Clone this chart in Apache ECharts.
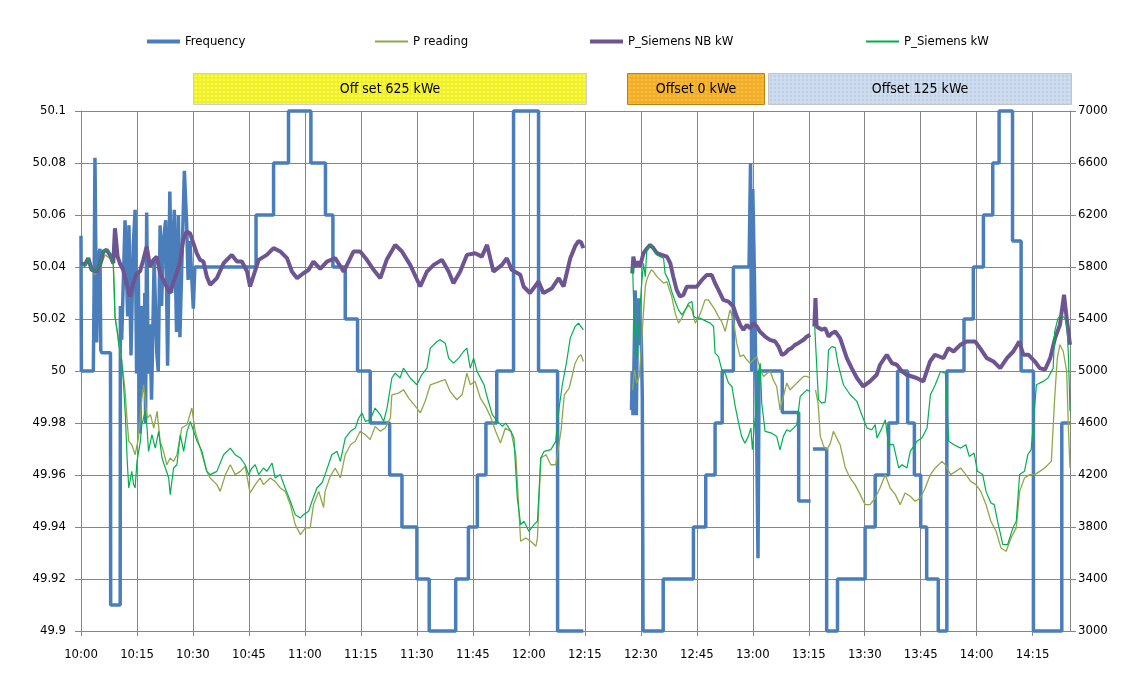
<!DOCTYPE html>
<html>
<head>
<meta charset="utf-8">
<script src="https://cdn.jsdelivr.net/npm/echarts@6/dist/echarts.min.js"></script>
<style>
  html, body { margin: 0; padding: 0; background: #fff; }
  #main { width: 1130px; height: 682px; }
</style>
</head>
<body>
<div id="main"></div>
<script>
// minutes after 10:00 -> value
const frequency = [
  [0, 50.052], [0.1, 50.0], [3.3, 50.0], [3.5, 50.03], [3.74, 50.082], [4.19, 50.011], [4.63, 50.044],
  [5.08, 50.047], [5.3, 50.008], [5.53, 50.007], [7.9, 50.007], [7.95, 49.91], [10.5, 49.91],
  [10.55, 50.025], [10.9, 50.012], [11.8, 50.058], [12.5, 50.021], [12.85, 50.056], [13.4, 50.006],
  [14.0, 50.048], [14.5, 50.062], [14.9, 49.999], [15.35, 50.038], [15.8, 49.976], [16.2, 50.025],
  [16.7, 49.992], [17.1, 50.03], [17.3, 49.98], [17.6, 50.061], [18.0, 49.999], [18.5, 50.018], [18.9, 49.989],
  [19.6, 50.043], [20.3, 50.007], [20.7, 50.0], [21.2, 50.056], [21.6, 50.025], [22.05, 50.05],
  [22.7, 50.058], [23.2, 50.002], [23.8, 50.069], [24.3, 50.03], [25.0, 50.062], [25.6, 50.015],
  [26.1, 50.06], [26.5, 50.013], [27.0, 50.04], [27.7, 50.077], [28.3, 50.057], [28.7, 50.035],
  [29.2, 50.05], [29.6, 50.038], [30.1, 50.024], [30.5, 50.04],
  [46.9, 50.04], [46.9, 50.06], [51.6, 50.06], [51.6, 50.08], [55.6, 50.08], [55.6, 50.1], [61.6, 50.1],
  [61.6, 50.08], [65.5, 50.08], [65.5, 50.06], [67.5, 50.06], [67.5, 50.04], [70.8, 50.04], [70.8, 50.02],
  [74.1, 50.02], [74.1, 50.0], [77.5, 50.0], [77.5, 49.98], [82.7, 49.98], [82.7, 49.96], [86.0, 49.96],
  [86.0, 49.94], [90.0, 49.94], [90.0, 49.92], [93.3, 49.92], [93.3, 49.9], [100.4, 49.9], [100.4, 49.92],
  [103.8, 49.92], [103.8, 49.94], [106.2, 49.94], [106.2, 49.96], [108.5, 49.96], [108.5, 49.98],
  [111.4, 49.98], [111.4, 50.0], [115.9, 50.0], [115.9, 50.1], [122.6, 50.1], [122.6, 50.0], [127.7, 50.0],
  [127.7, 49.9], [134.6, 49.9],
  [135, null],
  [147.5, 49.985], [147.7, 50.0], [147.9, 49.983], [148.2, 50.005], [148.5, 50.031], [148.8, 49.983],
  [149.1, 50.02], [149.4, 50.028], [149.8, 50.01], [150.1, 50.015], [150.4, 49.99], [150.6, 49.9],
  [156.0, 49.9], [156.0, 49.92], [164.1, 49.92], [164.1, 49.94], [167.4, 49.94], [167.4, 49.96],
  [169.9, 49.96], [169.9, 49.98], [171.8, 49.98], [171.8, 50.0], [174.8, 50.0], [174.8, 50.04],
  [179.0, 50.04], [179.4, 50.08], [179.7, 50.0], [180.0, 50.07], [180.4, 50.04], [181.0, 49.98],
  [181.4, 49.928], [181.7, 50.0], [187.9, 50.0], [187.9, 49.984], [192.3, 49.984], [192.3, 49.95],
  [195.5, 49.95], [195.8, null], [196.1, 49.97], [199.8, 49.97], [199.8, 49.9], [202.7, 49.9],
  [202.7, 49.92], [210.1, 49.92], [210.1, 49.94], [212.8, 49.94], [212.8, 49.96], [216.4, 49.96],
  [216.4, 49.98], [218.8, 49.98], [218.8, 50.0], [221.5, 50.0], [221.5, 49.98], [223.3, 49.98],
  [223.3, 49.96], [225.0, 49.96], [225.0, 49.94], [226.6, 49.94], [226.6, 49.92], [229.7, 49.92],
  [229.7, 49.9], [232.0, 49.9], [232.0, 50.0], [236.6, 50.0], [236.6, 50.02], [239.1, 50.02],
  [239.1, 50.04], [241.8, 50.04], [241.8, 50.06], [244.3, 50.06], [244.3, 50.08], [246.0, 50.08],
  [246.0, 50.1], [249.6, 50.1], [249.6, 50.05], [251.9, 50.05], [251.9, 50.0], [255.2, 50.0],
  [255.2, 49.9], [262.8, 49.9], [262.8, 49.98], [265, 49.98]
];

const pReading = [
  [0, 5803], [1.96, 5855], [3.74, 5739], [5.08, 5791], [6.42, 5893], [7.76, 5868], [8.65, 5816], [9.1, 5419],
  [10.0, 5240], [10.9, 5086], [11.8, 4850], [12.4, 4600], [12.8, 4459], [13.6, 4433], [14.5, 4356],
  [15.4, 4484], [16.3, 4792], [16.8, 4894], [17.7, 4638], [18.6, 4664], [19.5, 4561], [20.4, 4689],
  [21.2, 4459], [22.1, 4382], [23.0, 4279], [23.9, 4331], [24.8, 4305], [25.7, 4356], [27.0, 4561],
  [28.4, 4587], [29.7, 4715], [30.6, 4536], [31.96, 4407], [33.7, 4228], [34.6, 4177], [36.4, 4126],
  [37.3, 4074], [38.7, 4203], [40.0, 4279], [41.3, 4203], [42.7, 4228], [44.0, 4267], [45.3, 4062],
  [46.7, 4126], [48.0, 4177], [48.9, 4126], [50.7, 4177], [52.0, 4151], [53.4, 4100], [54.7, 4074],
  [56.1, 3972], [57.4, 3818], [58.8, 3741], [60.1, 3793], [61.4, 3793], [62.3, 3972], [63.7, 4074],
  [65.0, 3950], [65.4, 4074], [66.8, 4190], [68.1, 4254], [69.5, 4177], [70.8, 4356], [72.2, 4433],
  [73.5, 4459], [74.8, 4536], [76.2, 4510], [77.5, 4472], [78.8, 4574], [80.2, 4536], [81.5, 4561],
  [82.9, 4638], [83.3, 4817], [85.1, 4830], [86.4, 4856], [87.8, 4792], [90.0, 4715], [90.9, 4677],
  [92.2, 4766], [93.6, 4894], [94.9, 4907], [96.2, 4920], [97.6, 4933], [98.9, 4843], [100.7, 4779],
  [102.1, 4817], [103.4, 4984], [104.3, 4894], [105.6, 4920], [107.0, 4792], [108.4, 4728], [109.7, 4651],
  [111.1, 4536], [112.4, 4446], [113.7, 4561], [115.2, 4536], [116.5, 4356], [116.9, 4151], [117.8, 3690],
  [119.2, 3716], [120.5, 3690], [121.9, 3652], [122.3, 3716], [123.2, 4331], [124.6, 4356], [125.9, 4279],
  [127.2, 4279], [128.6, 4536], [129.5, 4817], [130.8, 4869], [131.5, 4950], [132.4, 5060], [133.3, 5110],
  [134.0, 5125], [134.6, 5073],
  [135, null],
  [147.8, 4855], [148.3, 5009], [148.9, 4907], [149.6, 4958], [150.1, 5163], [150.7, 5445], [151.2, 5649],
  [151.6, 5701], [152.1, 5739], [152.8, 5778], [153.4, 5765], [154.3, 5726], [155.2, 5701], [156.1, 5675],
  [157.0, 5688], [157.4, 5649], [158.3, 5573], [159.2, 5445], [160.1, 5368], [161.0, 5406], [161.9, 5470],
  [162.8, 5509], [163.7, 5470], [164.6, 5368], [165.4, 5406], [166.3, 5470], [167.2, 5547], [168.1, 5547],
  [169.0, 5509], [169.9, 5470], [170.8, 5419], [171.7, 5380], [172.6, 5304], [173.5, 5419], [173.9, 5470],
  [174.8, 5393], [175.7, 5214], [176.6, 5111], [177.5, 5124], [178.4, 5086], [179.3, 5060], [180.2, 5086],
  [181.1, 5111], [182.0, 5009], [182.9, 4958], [183.8, 4983], [184.7, 4996], [185.5, 4932], [186.4, 4881],
  [187.3, 4702], [188.2, 4804], [189.1, 4907], [190.0, 4855], [190.9, 4881], [191.8, 4907], [192.7, 4932],
  [193.6, 4958], [194.5, 4958], [195.4, 4945],
  [195.8, null],
  [196.8, 4855], [197.5, 4753], [198.1, 4497], [199.0, 4420], [199.9, 4394], [200.8, 4445], [201.6, 4536],
  [203.4, 4433], [204.8, 4254], [206.1, 4177], [207.4, 4126], [208.8, 4049], [210.1, 3972], [211.4, 3972],
  [212.8, 4023], [214.1, 4100], [215.5, 4203], [216.8, 4100], [218.2, 4049], [219.5, 3972], [220.8, 4062],
  [222.2, 4036], [223.5, 3998], [224.9, 4023], [226.2, 4100], [227.6, 4203], [228.9, 4254], [230.7, 4305],
  [231.6, 4279], [233.0, 4203], [234.4, 4228], [235.7, 4254], [237.1, 4203], [238.4, 4151], [239.8, 4126],
  [241.1, 4074], [242.5, 3972], [243.8, 3844], [245.2, 3767], [246.5, 3639], [247.9, 3613], [249.2, 3716],
  [250.6, 3793], [251.5, 4074], [252.8, 4177], [254.2, 4203], [255.5, 4203], [256.9, 4228], [258.2, 4254],
  [260.0, 4305], [260.9, 4792], [261.6, 5099], [262.3, 5202], [263.2, 5150], [264.1, 4997], [264.6, 4540],
  [265, 4254]
];

const pSiemensNB = [
  [0, 5829], [1.06, 5816], [1.96, 5868], [2.85, 5778], [4.19, 5765], [5.08, 5816], [5.97, 5919], [6.87, 5932],
  [7.76, 5893], [8.65, 5829], [9.1, 6098], [9.81, 5880], [10.4, 5829], [11.3, 5778], [12.2, 5675],
  [13.1, 5573], [14.0, 5675], [14.9, 5752], [15.8, 5765], [16.7, 5855], [17.6, 5957], [18.5, 5803],
  [19.4, 5855], [20.3, 5880], [21.2, 5752], [22.05, 5701], [22.9, 5650], [23.8, 5599], [24.7, 5675],
  [25.6, 5752], [26.5, 5829], [27.4, 6009], [28.3, 6073], [29.2, 6060], [30.1, 5983], [31.0, 5906],
  [31.9, 5855], [32.8, 5842], [33.7, 5727], [34.6, 5663], [36.4, 5714], [38.2, 5829], [40.4, 5893],
  [41.8, 5842], [43.1, 5842], [44.5, 5765], [45.3, 5650], [47.6, 5855], [49.8, 5893], [51.6, 5945],
  [53.4, 5919], [55.2, 5868], [56.5, 5765], [57.9, 5714], [59.6, 5752], [61.0, 5778], [62.3, 5842],
  [64.1, 5785], [65.9, 5842], [68.1, 5868], [70.4, 5765], [73.0, 5919], [74.8, 5919], [76.6, 5855],
  [78.4, 5778], [80.2, 5714], [81.9, 5855], [84.2, 5970], [86.0, 5919], [88.2, 5816], [90.9, 5650],
  [92.7, 5765], [94.5, 5816], [96.7, 5855], [98.5, 5765], [99.8, 5675], [101.6, 5765], [103.4, 5893],
  [105.6, 5906], [107.4, 5880], [108.8, 5970], [110.5, 5765], [112.8, 5816], [114.1, 5868], [115.4, 5778],
  [117.7, 5740], [118.6, 5650], [120.3, 5599], [122.6, 5688], [123.9, 5599], [126.2, 5637], [128.0, 5714],
  [129.3, 5650], [131.1, 5868], [132.4, 5960], [133.3, 6000], [134.0, 5990], [134.6, 5945],
  [135, null],
  [147.7, 5750], [148.0, 5880], [148.5, 5803], [149.4, 5842], [149.8, 5803], [150.7, 5906], [151.7, 5944],
  [152.5, 5970], [153.4, 5944], [154.3, 5906], [155.6, 5893], [157.0, 5880], [157.9, 5829], [158.7, 5726],
  [159.6, 5624], [160.5, 5573], [161.4, 5585], [162.3, 5649], [163.7, 5649], [165.0, 5649], [166.4, 5701],
  [167.7, 5739], [169.0, 5739], [169.9, 5675], [170.8, 5624], [172.1, 5547], [173.5, 5534], [174.8, 5496],
  [175.7, 5419], [176.6, 5355], [177.5, 5317], [178.4, 5355], [179.3, 5329], [180.2, 5368], [181.1, 5342],
  [181.9, 5304], [183.3, 5265], [184.6, 5240], [186.0, 5227], [186.9, 5188], [187.8, 5124], [188.7, 5137],
  [189.5, 5163], [190.4, 5176], [191.3, 5201], [192.2, 5214], [193.6, 5240], [194.5, 5265], [195.4, 5278],
  [195.8, null],
  [196.5, 5342], [196.8, 5560], [197.1, 5342], [198.5, 5317], [199.4, 5329], [200.3, 5265], [201.2, 5291],
  [202.1, 5304], [203.4, 5253], [205.2, 5099], [206.5, 5022], [207.9, 4946], [209.6, 4881], [211.4, 4920],
  [213.2, 4971], [214.1, 5048], [215.9, 5125], [217.3, 5061], [218.6, 5048], [220.0, 4997], [221.2, 4971],
  [223.9, 4946], [225.7, 4920], [227.5, 5073], [228.8, 5125], [231.1, 5099], [232.4, 5176], [233.8, 5150],
  [235.6, 5201], [237.3, 5227], [239.6, 5227], [240.9, 5176], [242.7, 5099], [244.5, 5073], [246.3, 5022],
  [248.1, 5099], [249.8, 5150], [251.4, 5227], [252.5, 5125], [253.9, 5125], [255.6, 5073], [256.9, 5022],
  [258.3, 5010], [259.7, 5099], [261.0, 5253], [262.3, 5355], [263.4, 5586], [264.1, 5407], [265, 5201]
];

const pSiemens = [
  [0, 5829], [1.06, 5803], [1.96, 5868], [2.85, 5778], [3.74, 5765], [5.08, 5816], [5.7, 5906], [6.42, 5932],
  [7.3, 5932], [8.03, 5880], [8.65, 5829], [8.92, 5624], [9.1, 5419], [9.81, 5291], [10.17, 5189],
  [10.7, 5137], [11.33, 4932], [11.9, 4650], [12.4, 4300], [12.8, 4100], [13.6, 4228], [14.1, 4126],
  [14.5, 4100], [15.0, 4305], [15.9, 4459], [16.3, 4587], [17.2, 4689], [17.7, 4561], [18.1, 4382],
  [19.0, 4510], [19.9, 4407], [20.8, 4536], [21.7, 4331], [22.6, 4254], [23.5, 4177], [23.9, 4049],
  [24.8, 4254], [25.7, 4279], [26.6, 4510], [27.5, 4382], [28.4, 4536], [29.3, 4612], [30.2, 4536],
  [31.1, 4459], [32.4, 4382], [33.7, 4228], [34.6, 4203], [36.4, 4228], [38.2, 4356], [40.0, 4407],
  [41.3, 4356], [42.7, 4331], [44.0, 4279], [44.9, 4203], [45.8, 4254], [46.7, 4279], [47.6, 4203],
  [48.9, 4254], [49.8, 4228], [51.2, 4292], [52.0, 4177], [53.4, 4203], [54.7, 4100], [56.1, 3998],
  [57.4, 3895], [58.8, 3870], [59.6, 3895], [61.0, 3921], [61.9, 3998], [63.2, 4100], [64.6, 4140],
  [65.4, 4203], [67.2, 4356], [68.6, 4382], [69.5, 4305], [70.8, 4484], [72.2, 4536], [73.5, 4561],
  [74.4, 4638], [75.3, 4677], [76.2, 4612], [77.5, 4625], [78.8, 4715], [80.2, 4664], [81.1, 4612],
  [82.0, 4715], [83.3, 4946], [84.2, 4984], [85.5, 4946], [86.4, 5022], [88.2, 4946], [90.0, 4894],
  [91.3, 4971], [92.7, 5022], [93.6, 5176], [95.4, 5227], [96.2, 5240], [97.6, 5214], [98.5, 5099],
  [99.8, 5061], [101.2, 5099], [102.5, 5150], [103.4, 5176], [104.3, 5022], [105.2, 5099], [106.1, 4997],
  [108.0, 4894], [108.9, 4792], [110.2, 4664], [111.6, 4612], [112.9, 4574], [113.8, 4600], [115.2, 4536],
  [116.0, 4484], [116.9, 4023], [117.8, 3818], [118.7, 3844], [120.0, 3767], [121.4, 3818], [122.3, 3844],
  [123.2, 4331], [124.1, 4382], [125.9, 4395], [127.2, 4459], [128.1, 4715], [129.0, 4900], [130.0, 5050],
  [131.1, 5253], [132.4, 5342], [133.3, 5368], [134.6, 5317],
  [135, null],
  [147.8, 5803], [148.3, 5317], [148.9, 5111], [149.6, 5393], [150.1, 5624], [150.7, 5829], [151.2, 5726],
  [151.6, 5931], [152.1, 5957], [152.8, 5970], [153.4, 5931], [154.3, 5893], [155.2, 5880], [156.1, 5867],
  [156.5, 5752], [157.4, 5701], [158.3, 5611], [159.2, 5534], [160.1, 5470], [161.0, 5432], [161.9, 5470],
  [162.8, 5521], [163.7, 5534], [164.2, 5419], [165.0, 5406], [165.9, 5406], [166.8, 5393], [167.7, 5380],
  [168.6, 5368], [169.5, 5342], [169.9, 5137], [170.8, 5111], [171.7, 5009], [172.6, 4983], [173.5, 4907],
  [174.4, 4881], [175.3, 4727], [176.2, 4599], [177.0, 4497], [177.9, 4445], [178.8, 4497], [179.5, 4561],
  [179.9, 4394], [180.4, 4573], [181.1, 4753], [181.5, 4983], [182.0, 5060], [182.4, 4753], [183.3, 4535],
  [185.1, 4522], [186.4, 4497], [187.3, 4394], [188.2, 4497], [189.1, 4548], [190.0, 4535], [190.9, 4561],
  [191.8, 4586], [192.7, 4804], [193.6, 4830], [194.5, 4855], [195.4, 4842],
  [195.8, null],
  [196.6, 5342], [197.1, 5060], [197.6, 4780], [198.5, 4753], [199.4, 4760], [199.8, 4880], [200.3, 5163],
  [201.2, 5188], [202.1, 5180], [202.9, 5048], [204.3, 4894], [206.1, 4817], [207.9, 4766], [209.2, 4664],
  [210.6, 4561], [211.9, 4548], [212.8, 4587], [213.3, 4484], [214.6, 4561], [215.5, 4625], [216.4, 4433],
  [217.7, 4433], [219.1, 4254], [220.0, 4279], [221.3, 4254], [222.2, 4382], [224.0, 4459], [225.3, 4484],
  [226.7, 4561], [227.6, 4817], [228.9, 4894], [230.3, 4997], [231.6, 4984], [232.5, 4459], [233.9, 4433],
  [235.7, 4407], [237.1, 4433], [238.0, 4343], [239.3, 4369], [240.2, 4228], [241.6, 4203], [242.5, 4074],
  [243.8, 3985], [244.7, 3972], [245.6, 3844], [247.0, 3665], [248.3, 3665], [249.7, 3793], [250.6, 3844],
  [251.5, 4203], [252.8, 4228], [253.7, 4356], [254.6, 4395], [256.0, 4894], [257.8, 4920], [259.1, 4946],
  [260.5, 5022], [260.9, 5304], [261.8, 5407], [262.7, 5432], [263.6, 5407], [264.2, 5350], [264.6, 5100],
  [265, 4690]
];

const rightTicks = [3000, 3400, 3800, 4200, 4600, 5000, 5400, 5800, 6200, 6600, 7000];
const offsetLabels = ['Off set 625 kWe', 'Offset 0 kWe', 'Offset 125 kWe'];

const font = "'DejaVu Sans Condensed', 'Liberation Sans', sans-serif";
const gridColor = '#868686';

function gridPattern(bg, line) {
  var c = document.createElement('canvas');
  c.width = 4;
  c.height = 4;
  var g = c.getContext('2d');
  g.fillStyle = bg;
  g.fillRect(0, 0, 4, 4);
  g.fillStyle = line;
  g.fillRect(0, 0, 4, 1);
  g.fillRect(0, 0, 1, 4);
  return { image: c, repeat: 'repeat' };
}

function timeLabel(m) {
  var h = 10 + Math.floor(m / 60);
  var mm = m % 60;
  return h + ':' + (mm < 10 ? '0' : '') + mm;
}

function offsetBox(x, w, fill, border, text) {
  return {
    type: 'group',
    left: x,
    top: 73,
    children: [
      { type: 'rect', shape: { x: 0, y: 0, width: w, height: 31 }, style: { fill: fill, stroke: border, lineWidth: 1 } },
      { type: 'text', x: w / 2, y: 16, style: { text: text, fill: '#000', font: '14px ' + font, textAlign: 'center', textVerticalAlign: 'middle' } }
    ]
  };
}

function legendItem(name, left, h) {
  return {
    data: [name], left: left, top: 30, icon: 'rect', itemWidth: 33, itemHeight: h,
    textStyle: { fontSize: 13, color: '#000', fontFamily: font }
  };
}

var myChart = echarts.init(document.getElementById('main'));

var option = {
  animation: false,
  backgroundColor: '#fff',
  legend: [
    legendItem('Frequency', 142, 4),
    legendItem('P reading', 370, 2),
    legendItem('P_Siemens NB kW', 585, 4),
    legendItem('P_Siemens kW', 861, 2)
  ],
  grid: { left: 81, right: 60, top: 111, bottom: 51 },
  xAxis: {
    type: 'value', min: 0, max: 265, interval: 15,
    axisLine: { lineStyle: { color: gridColor } },
    axisTick: { show: true, length: 5, lineStyle: { color: gridColor } },
    splitLine: { show: true, lineStyle: { color: gridColor, width: 1 } },
    axisLabel: { formatter: timeLabel, showMaxLabel: false, margin: 17, fontSize: 13, color: '#000', fontFamily: font }
  },
  yAxis: [
    {
      type: 'value', min: 49.9, max: 50.1, interval: 0.02,
      axisLine: { show: true, lineStyle: { color: gridColor } },
      axisTick: { show: true, length: 6, lineStyle: { color: gridColor } },
      splitLine: { show: true, lineStyle: { color: gridColor, width: 1 } },
      axisLabel: { margin: 15, fontSize: 13, color: '#000', fontFamily: font }
    },
    {
      type: 'value', min: 3000, max: 7000, position: 'right',
      axisLine: { show: true, lineStyle: { color: gridColor } },
      axisTick: { show: true, length: 6, customValues: rightTicks, lineStyle: { color: gridColor } },
      splitLine: { show: false },
      axisLabel: {
        customValues: rightTicks, margin: 8, fontSize: 13, color: '#000', fontFamily: font,
        formatter: function (v) { return String(v); }
      }
    }
  ],
  series: [
    {
      name: 'Frequency', type: 'line', yAxisIndex: 0, data: frequency,
      showSymbol: false, clip: false, connectNulls: false,
      lineStyle: { width: 3.5, color: '#4a7ebb' }, itemStyle: { color: '#4a7ebb' }
    },
    {
      name: 'P reading', type: 'line', yAxisIndex: 1, data: pReading,
      showSymbol: false, connectNulls: false,
      lineStyle: { width: 1.3, color: '#8ea84a' }, itemStyle: { color: '#8ea84a' }
    },
    {
      name: 'P_Siemens NB kW', type: 'line', yAxisIndex: 1, data: pSiemensNB,
      showSymbol: false, connectNulls: false,
      lineStyle: { width: 4, color: '#6c5592' }, itemStyle: { color: '#6c5592' }
    },
    {
      name: 'P_Siemens kW', type: 'line', yAxisIndex: 1, data: pSiemens,
      showSymbol: false, connectNulls: false,
      lineStyle: { width: 1.2, color: '#00b050' }, itemStyle: { color: '#00b050' }
    }
  ],
  graphic: [
    offsetBox(193, 393, gridPattern('#ffff26', '#e4e44a'), '#cfcfcf', offsetLabels[0]),
    offsetBox(627, 137, gridPattern('#fbbd33', '#eaa52a'), '#b88412', offsetLabels[1]),
    offsetBox(768, 303, gridPattern('#bccfe6', '#d9e3f0'), '#c4c4c4', offsetLabels[2])
  ]
};

myChart.setOption(option);
</script>
</body>
</html>
